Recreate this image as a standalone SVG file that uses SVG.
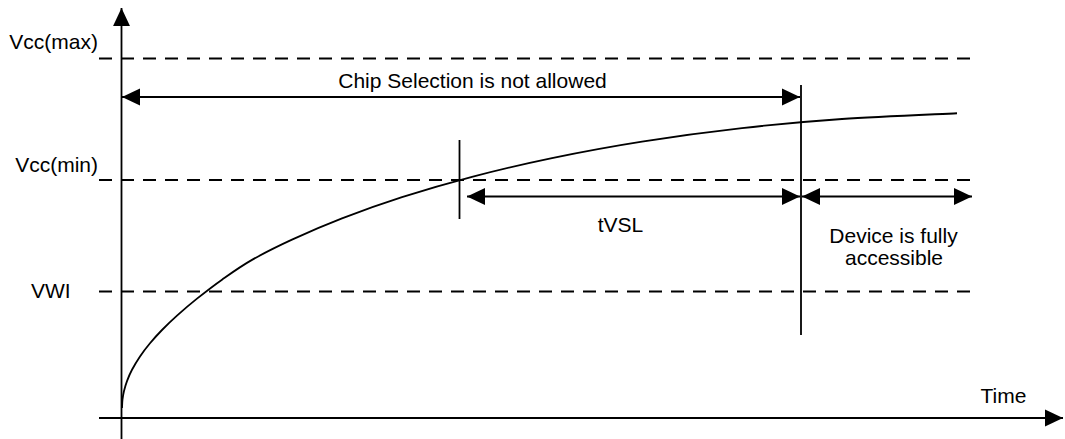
<svg xmlns="http://www.w3.org/2000/svg" width="1065" height="439" viewBox="0 0 1065 439">
<style>
.ln{stroke:#000;stroke-width:1.8;fill:none}
.dash{stroke:#000;stroke-width:1.8;fill:none;stroke-dasharray:13 9}
.t{font-family:"Liberation Sans",Arial,sans-serif;font-size:21px;fill:#000}
</style>
<defs>
<marker id="ah" markerUnits="userSpaceOnUse" markerWidth="18" markerHeight="18" viewBox="0 0 16 16" refX="16" refY="8" orient="auto-start-reverse">
<path d="M0,0.5 L16,8 L0,15.5 Z" fill="#000"/>
</marker>
</defs>
<rect width="1065" height="439" fill="#fff"/>
<g id="axes">
<line class="ln" x1="121.5" y1="439" x2="121.5" y2="8" marker-end="url(#ah)"/>
<line class="ln" x1="99" y1="418" x2="1063" y2="418" marker-end="url(#ah)"/>
</g>
<g id="levels">
<line class="dash" x1="99" y1="58.5" x2="972" y2="58.5"/>
<line class="dash" x1="99" y1="180" x2="972" y2="180"/>
<line class="dash" x1="99" y1="291.5" x2="972" y2="291.5"/>
</g>
<g id="curve">
<path class="ln" d="M122,408 C122.08,406.59 122.17,402.34 122.5,399.51 C122.83,396.68 123.25,394.08 124,391.01 C124.75,387.94 125.67,384.61 127,381.07 C128.33,377.53 129.83,373.89 132,369.79 C134.17,365.69 137,360.87 140,356.45 C143,352.03 146.33,347.68 150,343.27 C153.67,338.86 157.5,334.61 162,330 C166.5,325.39 171.17,320.83 177,315.61 C182.83,310.39 189.5,304.65 197,298.66 C204.5,292.67 212.83,286.13 222,279.67 C231.17,273.21 240.33,266.57 252,259.9 C263.67,253.23 277,246.57 292,239.65 C307,232.73 323.67,225.48 342,218.4 C360.33,211.32 380.33,204.1 402,197.16 C423.67,190.22 447,183.3 472,176.78 C497,170.26 523.67,163.9 552,158.03 C580.33,152.16 610.33,146.55 642,141.56 C673.67,136.57 708.67,131.86 742,128.1 C775.33,124.34 806.17,121.45 842,118.98 C877.83,116.51 937.83,114.21 957,113.26"/>
</g>
<g id="markers">
<line class="ln" x1="801" y1="85" x2="801" y2="335"/>
<line class="ln" x1="459.5" y1="140" x2="459.5" y2="219"/>
</g>
<g id="connectors">
<line class="ln" x1="122" y1="97" x2="800" y2="97" marker-start="url(#ah)" marker-end="url(#ah)"/>
<line class="ln" x1="467" y1="196.5" x2="800" y2="196.5" marker-start="url(#ah)" marker-end="url(#ah)"/>
<line class="ln" x1="802" y1="196.5" x2="972" y2="196.5" marker-start="url(#ah)" marker-end="url(#ah)"/>
</g>
<g id="labels">
<text class="t" x="98" y="49" text-anchor="end">Vcc(max)</text>
<text class="t" x="98" y="172" text-anchor="end">Vcc(min)</text>
<text class="t" x="31" y="298">VWI</text>
<text class="t" x="472.5" y="88" text-anchor="middle">Chip Selection is not allowed</text>
<text class="t" x="620.5" y="232" text-anchor="middle">tVSL</text>
<text class="t" x="893.5" y="243" text-anchor="middle">Device is fully</text>
<text class="t" x="894" y="265" text-anchor="middle">accessible</text>
<text class="t" x="1003.5" y="403" text-anchor="middle">Time</text>
</g>
</svg>
